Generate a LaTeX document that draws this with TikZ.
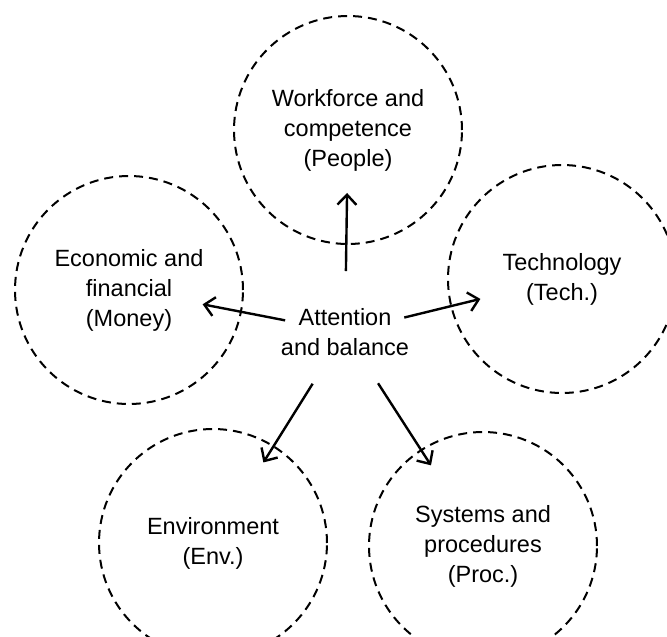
\documentclass[tikz,border=0pt]{standalone}
\usepackage{fontspec}
\setmainfont{Liberation Sans}
\usetikzlibrary{arrows.meta}
\begin{document}
\begin{tikzpicture}[
  x=1pt, y=-1pt,
  area/.style={circle, draw, dash pattern=on 9pt off 6pt, line width=2pt, minimum size=228pt, inner sep=0pt, align=center},
  link/.style={-{Straight Barb[length=10pt,width=19pt]}, line width=2.4pt, shorten <=61pt},
  font=\fontsize{23.5}{30}\selectfont
]
\useasboundingbox (0,0) rectangle (667,637);
\node[align=center] (focus) at (345,332) {Attention\\and balance};

\node[area] (people) at (348,130) {Workforce and\\competence\\(People)};
\node[area] (money) at (129,290) {Economic and\\financial\\(Money)};
\node[area] (tech) at (562,279) {Technology\\(Tech.)};
\node[area] (env) at (213,543) {Environment\\(Env.)};
\node[area] (proc) at (483,546) {Systems and\\procedures\\(Proc.)};

\draw[link, shorten >=63pt] (focus.center) -- (people.center);
\draw[link, shorten >=75pt] (focus.center) -- (money.center);
\draw[link, shorten >=84pt] (focus.center) -- (tech.center);
\draw[link, shorten >=95pt] (focus.center) -- (env.center);
\draw[link, shorten >=96pt] (focus.center) -- (proc.center);
\end{tikzpicture}
\end{document}
